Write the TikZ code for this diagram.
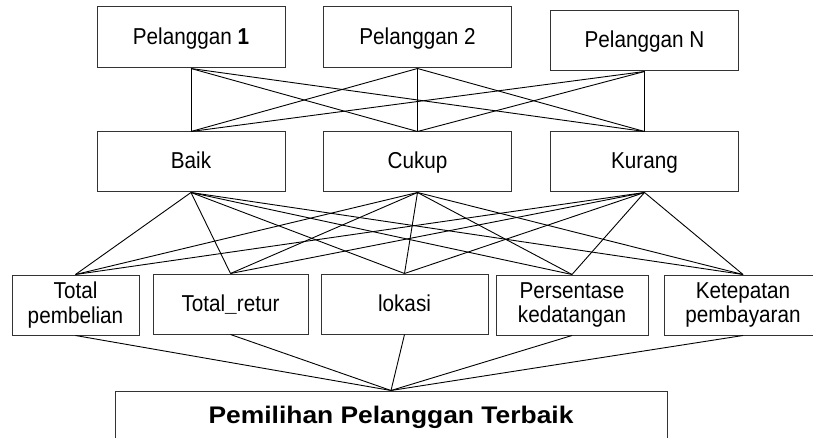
\documentclass[tikz,border=0pt]{standalone}
\usepackage{fontspec}
\newfontfamily\regfont[FakeStretch=0.9]{Liberation Sans}
\newfontfamily\titlefont[FakeStretch=1.1]{Liberation Sans Bold}
\begin{document}
\begin{tikzpicture}[x=1pt,y=-1pt,
  box/.style={draw=black!80,line width=1pt,inner sep=0pt,align=center,
    font=\regfont\fontsize{23}{24.5}\selectfont},
  oneline/.style={text height=17pt,text depth=3pt},
  topbox/.style={box,oneline,minimum width=188pt,minimum height=61pt},
  midbox/.style={box,oneline,minimum width=188pt,minimum height=60pt},
  link/.style={draw=black,line width=0.9pt}]
\useasboundingbox (0,0) rectangle (813,438);
% top row
\node[topbox] (p1) at (191,37.5) {Pelanggan \textbf{1}};
\node[topbox] (p2) at (417.5,37.5) {Pelanggan 2};
\node[topbox,minimum height=60pt] (pn) at (644.5,41) {Pelanggan N};
% middle row
\node[midbox] (baik) at (191,162) {Baik};
\node[midbox] (cukup) at (417.5,162) {Cukup};
\node[midbox] (kurang) at (644.5,162) {Kurang};
% criteria row
\node[box,minimum width=127pt,minimum height=60pt] (tp) at (75.5,305) {Total\\pembelian};
\node[box,oneline,minimum width=155pt,minimum height=60pt] (tr) at (230.5,304) {Total\textbf{\_}retur};
\node[box,oneline,minimum width=167pt,minimum height=60pt] (lok) at (404.5,304) {lokasi};
\node[box,minimum width=152pt,minimum height=60pt] (pk) at (572,305) {Persentase\\kedatangan};
\node[box,minimum width=158pt,minimum height=60pt] (kp) at (743,305) {Ketepatan\\pembayaran};
% goal
\node[box,minimum width=552pt,minimum height=52pt,font=\titlefont\fontsize{24}{26}\selectfont] (goal) at (391,417) {Pemilihan Pelanggan Terbaik};
% links top -> middle
\foreach \a in {p1,p2,pn}{
  \foreach \b in {baik,cukup,kurang}{
    \draw[link] (\a.south) -- (\b.north);
  }
}
% links middle -> criteria
\foreach \a in {baik,cukup,kurang}{
  \foreach \b in {tp,tr,lok,pk,kp}{
    \draw[link] (\a.south) -- (\b.north);
  }
}
% links criteria -> goal
\foreach \b in {tp,tr,lok,pk,kp}{
  \draw[link] (\b.south) -- (goal.north);
}
\end{tikzpicture}
\end{document}
